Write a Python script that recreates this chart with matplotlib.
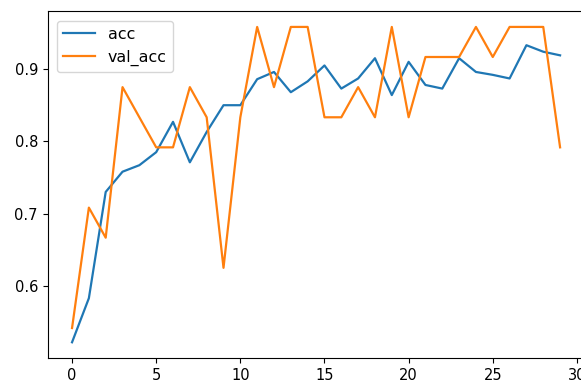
import matplotlib
matplotlib.use("Agg")
import matplotlib.pyplot as plt

epochs = list(range(30))
acc = [0.522, 0.583, 0.730, 0.758, 0.767, 0.785, 0.827, 0.771, 0.813, 0.850,
       0.850, 0.886, 0.896, 0.868, 0.883, 0.905, 0.873, 0.887, 0.915, 0.864,
       0.910, 0.878, 0.873, 0.915, 0.896, 0.892, 0.887, 0.933, 0.924, 0.919]
val_acc = [0.5417, 0.7083, 0.6667, 0.875, 0.8333, 0.7917, 0.7917, 0.875, 0.8333, 0.625,
           0.8333, 0.9583, 0.875, 0.9583, 0.9583, 0.8333, 0.8333, 0.875, 0.8333, 0.9583,
           0.8333, 0.9167, 0.9167, 0.9167, 0.9583, 0.9167, 0.9583, 0.9583, 0.9583, 0.7917]

fig = plt.figure(figsize=(5.81, 3.85), dpi=100)
ax = fig.add_axes([0.082, 0.070, 0.924, 0.901])
ax.plot(epochs, acc, label="acc", color="#1f77b4", linewidth=1.6)
ax.plot(epochs, val_acc, label="val_acc", color="#ff7f0e", linewidth=1.6)
ax.set_yticks([0.6, 0.7, 0.8, 0.9])
ax.tick_params(labelsize=10.5)
ax.legend(loc="upper left", fontsize=11.4, borderaxespad=0.6)
fig.savefig("out.png", dpi=100)
